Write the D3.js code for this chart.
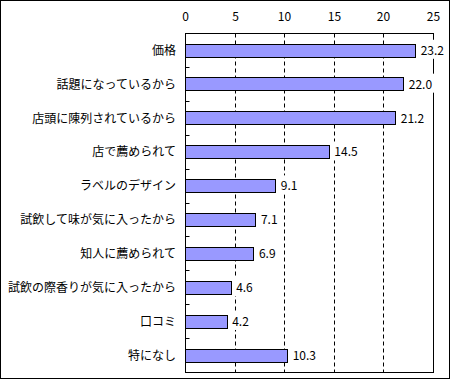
<!DOCTYPE html>
<html>
<head>
  <meta charset="utf-8">
  <script src="https://d3js.org/d3.v7.min.js"></script>
  <style>
    body { margin: 0; background: #fff; }
    text { font-family: "Noto Sans CJK JP", "Noto Sans", sans-serif; font-size: 12px; fill: #000; }
  </style>
</head>
<body>
  <div id="chart"></div>
  <script>
    // answers and percentages, top to bottom
    const categories = ["価格", "話題になっているから", "店頭に陳列されているから", "店で薦められて",
      "ラベルのデザイン", "試飲して味が気に入ったから", "知人に薦められて",
      "試飲の際香りが気に入ったから", "口コミ", "特になし"];
    const values = [23.2, 22.0, 21.2, 14.5, 9.1, 7.1, 6.9, 4.6, 4.2, 10.3];
    const tickValues = [0, 5, 10, 15, 20, 25];

    const W = 450, H = 379;
    const plot = { left: 185.5, right: 433.5, top: 33.5, bottom: 372.5 };

    const svg = d3.select("#chart").append("svg")
      .attr("width", W)
      .attr("height", H);

    svg.append("rect")
      .attr("x", 0.5).attr("y", 0.5)
      .attr("width", W - 1).attr("height", H - 1)
      .attr("fill", "#fff").attr("stroke", "#000");

    const x = d3.scaleLinear().domain([0, 25]).range([plot.left, plot.right]);
    const y = d3.scaleBand().domain(categories)
      .range([plot.top, plot.bottom])
      .paddingInner(0.62).paddingOuter(0.31);

    const px = v => Math.round(v - 0.5) + 0.5;

    // plot area
    svg.append("rect")
      .attr("x", plot.left).attr("y", plot.top)
      .attr("width", plot.right - plot.left).attr("height", plot.bottom - plot.top)
      .attr("fill", "#fff").attr("stroke", "#000");

    // dashed grid
    svg.append("g").selectAll("line")
      .data(tickValues.slice(1, -1))
      .join("line")
      .attr("x1", d => px(x(d))).attr("x2", d => px(x(d)))
      .attr("y1", plot.top).attr("y2", plot.bottom)
      .attr("stroke", "#000")
      .attr("stroke-dasharray", "4,3");

    // top axis labels
    svg.append("g").selectAll("text")
      .data(tickValues)
      .join("text")
      .attr("x", d => px(x(d)))
      .attr("y", 20.5)
      .attr("text-anchor", "middle")
      .text(d => d);

    // left tick marks between categories
    svg.append("g").selectAll("line")
      .data(categories.slice(1))
      .join("line")
      .attr("x1", plot.left).attr("x2", plot.left + 4)
      .attr("y1", d => px(y(d) - y.step() * y.paddingInner() / 2))
      .attr("y2", d => px(y(d) - y.step() * y.paddingInner() / 2))
      .attr("stroke", "#000");

    // category labels
    svg.append("g").selectAll("text")
      .data(categories)
      .join("text")
      .attr("x", 176)
      .attr("y", d => y(d) + y.bandwidth() / 2)
      .attr("dy", "0.36em")
      .attr("text-anchor", "end")
      .text(d => d);

    // bars
    svg.append("g").selectAll("rect")
      .data(values)
      .join("rect")
      .attr("x", plot.left)
      .attr("y", (d, i) => px(y(categories[i])))
      .attr("width", d => px(x(d)) - plot.left)
      .attr("height", 13)
      .attr("fill", "#9999ff")
      .attr("stroke", "#000");

    // value labels with white boxes
    const labels = svg.append("g").selectAll("g")
      .data(values)
      .join("g");

    labels.append("rect").attr("fill", "#fff");
    labels.append("text")
      .attr("x", d => x(d) + 5)
      .attr("y", (d, i) => y(categories[i]) + y.bandwidth() / 2)
      .attr("dy", "0.36em")
      .text(d => d.toFixed(1));

    labels.each(function() {
      const g = d3.select(this);
      const b = g.select("text").node().getBBox();
      g.select("rect")
        .attr("x", b.x - 2).attr("y", b.y - 1)
        .attr("width", b.width + 4).attr("height", b.height + 2);
    });
  </script>
</body>
</html>
